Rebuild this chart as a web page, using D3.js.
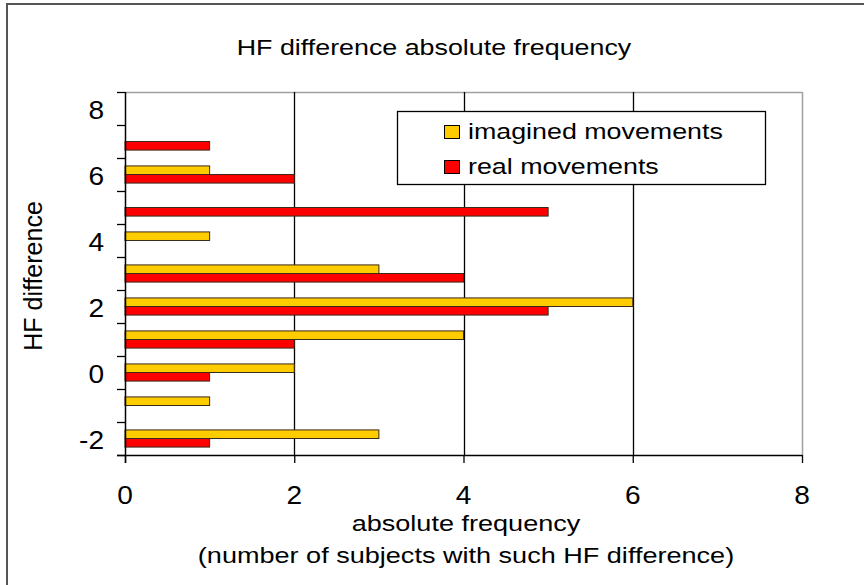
<!DOCTYPE html>
<html>
<head>
<meta charset="utf-8">
<script src="https://cdn.jsdelivr.net/npm/d3@7"></script>
<style>
  html, body { margin: 0; padding: 0; background: #fff; }
  svg { display: block; font-family: "Liberation Sans", Arial, sans-serif; }
</style>
</head>
<body>
<svg id="chart" width="864" height="585"></svg>
<script>
const categories = [-2, -1, 0, 1, 2, 3, 4, 5, 6, 7, 8];
const imagined = [3, 1, 2, 4, 6, 3, 1, 0, 1, 0, 0];
const real = [1, 0, 1, 2, 5, 4, 0, 5, 2, 1, 0];
const seriesNames = ["imagined movements", "real movements"];
const seriesColors = ["#FFCC00", "#FF0000"];
const xTicks = [0, 2, 4, 6, 8];
const yLabelCats = [-2, 0, 2, 4, 6, 8];

const svg = d3.select("#chart");
const L = 125, R = 802, T = 92, B = 455;

// helper: text with horizontal stretch
function stext(parent, x, y, str, size, sx, anchor) {
  return parent.append("text")
    .attr("transform", `translate(${x},${y}) scale(${sx},1)`)
    .attr("text-anchor", anchor || "middle")
    .attr("font-size", size)
    .attr("fill", "#000")
    .text(str);
}

// outer frame
svg.append("rect").attr("x", 7).attr("y", 4).attr("width", 900).attr("height", 620)
  .attr("fill", "none").attr("stroke", "#555").attr("stroke-width", 2);

const x = d3.scaleLinear().domain([0, 8]).range([L, R]);
const y = d3.scaleBand().domain(categories.slice().reverse()).range([T, B]).paddingInner(0).paddingOuter(0);
const bw = y.bandwidth();
const ys = d3.scaleBand().domain(seriesNames).range([bw * 0.24, bw * 0.76]);

// plot border (grey top/right)
svg.append("line").attr("x1", L).attr("x2", R).attr("y1", T + 0.5).attr("y2", T + 0.5).attr("stroke", "#a0a0a0").attr("stroke-width", 1.5);
svg.append("line").attr("x1", R + 0.5).attr("x2", R + 0.5).attr("y1", T).attr("y2", B).attr("stroke", "#a0a0a0").attr("stroke-width", 1.5);

// gridlines
svg.append("g").selectAll("line").data(xTicks.filter(d => d > 0 && d < 8)).join("line")
  .attr("x1", d => Math.round(x(d)) + 0.5).attr("x2", d => Math.round(x(d)) + 0.5)
  .attr("y1", T).attr("y2", B).attr("stroke", "#000").attr("stroke-width", 1.3);

// bars
const rows = categories.map((c, i) => ({ c, vals: [imagined[i], real[i]] }));
const g = svg.append("g");
rows.forEach(r => {
  r.vals.forEach((v, si) => {
    if (v <= 0) return;
    g.append("rect")
      .attr("x", x(0))
      .attr("y", y(r.c) + ys(seriesNames[si]))
      .attr("width", x(v) - x(0))
      .attr("height", ys.bandwidth())
      .attr("fill", seriesColors[si])
      .attr("stroke", "#3a2a1a")
      .attr("stroke-width", 1);
  });
});

// x axis
const xAxis = d3.axisBottom(x).tickValues(xTicks).tickSize(8).tickFormat("");
const xg = svg.append("g").attr("transform", `translate(0,${B})`).call(xAxis);
xg.select(".domain").remove();
xg.append("line").attr("x1", L - 8).attr("x2", R).attr("y1", 0.5).attr("y2", 0.5).attr("stroke", "#000").attr("stroke-width", 1.5);
xg.selectAll(".tick line").attr("stroke", "#000").attr("stroke-width", 1.3);
const xl = svg.append("g");
xTicks.forEach(t => stext(xl, x(t), 504, d3.format("d")(t), 26, 1.08, "middle"));

// y axis: ticks at band boundaries, labels at band centers
const yg = svg.append("g");
yg.append("line").attr("x1", L + 0.5).attr("x2", L + 0.5).attr("y1", T).attr("y2", B + 8).attr("stroke", "#000").attr("stroke-width", 1.5);
const bounds = categories.map(c => y(c)).concat([B]);
yg.selectAll("line.tk").data(bounds).join("line").attr("class", "tk")
  .attr("x1", L - 8).attr("x2", L).attr("y1", d => Math.round(d) + 0.5).attr("y2", d => Math.round(d) + 0.5)
  .attr("stroke", "#000").attr("stroke-width", 1.3);
yLabelCats.forEach(c => stext(yg, 104, y(c) + bw / 2 + 10, String(c), 26, 1.08, "end"));

// title
stext(svg, 434, 55, "HF difference absolute frequency", 22, 1.22, "middle");

// x axis title
stext(svg, 466, 531, "absolute frequency", 22, 1.23, "middle");
stext(svg, 466, 563, "(number of subjects with such HF difference)", 22, 1.23, "middle");

// y axis title
svg.append("text").attr("transform", "translate(42,276) rotate(-90)").attr("text-anchor", "middle").attr("font-size", 25).text("HF difference");

// legend
const lg = svg.append("g");
lg.append("rect").attr("x", 397.5).attr("y", 111.5).attr("width", 368).attr("height", 73)
  .attr("fill", "#fff").attr("stroke", "#000").attr("stroke-width", 1.3);
seriesNames.forEach((n, i) => {
  const base = 139 + i * 35;
  lg.append("rect").attr("x", 444.5).attr("y", base - 13.5).attr("width", 15).attr("height", 13)
    .attr("fill", seriesColors[i]).attr("stroke", "#000").attr("stroke-width", 1);
  stext(lg, 468, base, n, 22, 1.22, "start");
});
</script>
</body>
</html>
